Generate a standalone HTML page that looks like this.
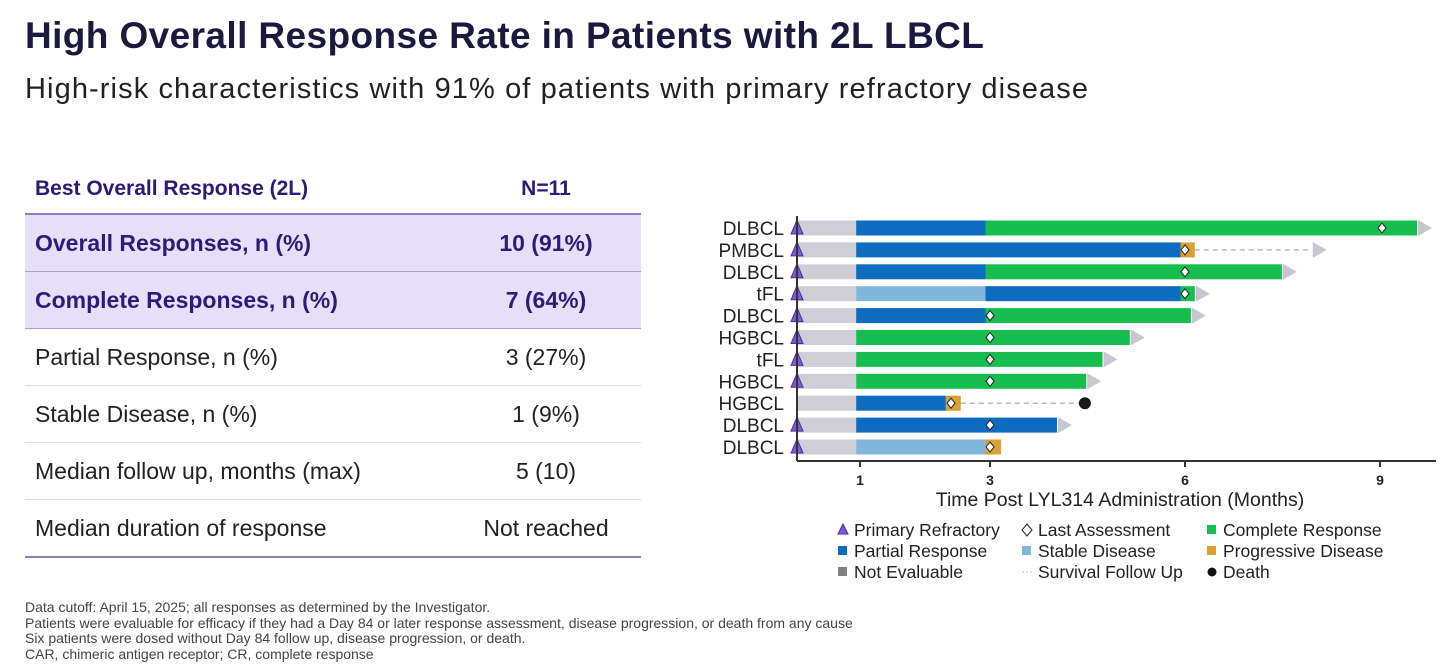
<!DOCTYPE html>
<html><head><meta charset="utf-8">
<style>
body{margin:0;width:1441px;height:671px;background:#fff;font-family:"Liberation Sans",sans-serif;position:relative;overflow:hidden;color:#222}
.title{position:absolute;left:25px;top:15px;font-size:37px;font-weight:bold;color:#1b1a3e;letter-spacing:0.4px}
.sub{position:absolute;left:25px;top:73px;font-size:29px;color:#222;letter-spacing:1.1px}
table{position:absolute;left:25px;top:165px;width:616px;border-collapse:collapse;font-size:23px}
td{padding:0 10px;height:56px;border-bottom:1.5px solid #ddd}
td.v{text-align:center;width:170px}
tr.h td{height:48px;font-weight:bold;color:#2e1a78;font-size:21px;border-bottom:2px solid #8a7fb8}
tr.p td{background:#e5dffa;font-weight:bold;color:#2e1a78;border-bottom:1.5px solid #a8a0cc}
tr.last td{border-bottom:2px solid #8a7fb8}
.foot{position:absolute;left:25px;top:600px;font-size:14px;color:#444;line-height:15.5px}
svg{position:absolute;left:0;top:0}
</style></head><body>
<div class="title">High Overall Response Rate in Patients with 2L LBCL</div>
<div class="sub">High-risk characteristics with 91% of patients with primary refractory disease</div>
<table>
<tr class="h"><td>Best Overall Response (2L)</td><td class="v">N=11</td></tr>
<tr class="p"><td>Overall Responses, n (%)</td><td class="v">10 (91%)</td></tr>
<tr class="p"><td>Complete Responses, n (%)</td><td class="v">7 (64%)</td></tr>
<tr><td>Partial Response, n (%)</td><td class="v">3 (27%)</td></tr>
<tr><td>Stable Disease, n (%)</td><td class="v">1 (9%)</td></tr>
<tr><td>Median follow up, months (max)</td><td class="v">5 (10)</td></tr>
<tr class="last"><td>Median duration of response</td><td class="v">Not reached</td></tr>
</table>
<div class="foot">Data cutoff: April 15, 2025; all responses as determined by the Investigator.<br>Patients were evaluable for efficacy if they had a Day 84 or later response assessment, disease progression, or death from any cause<br>Six patients were dosed without Day 84 follow up, disease progression, or death.<br>CAR, chimeric antigen receptor; CR, complete response</div>
<svg id="chart" width="1441" height="671"></svg>
<script>
const labels=["DLBCL","PMBCL","DLBCL","tFL","DLBCL","HGBCL","tFL","HGBCL","HGBCL","DLBCL","DLBCL"];
const segments=[
[["NE",0.91],["PR",2.9],["CR",9.54]],
[["NE",0.91],["PR",5.9],["PD",6.12]],
[["NE",0.91],["PR",2.9],["CR",7.46]],
[["NE",0.91],["SD",2.9],["PR",5.9],["CR",6.12]],
[["NE",0.91],["PR",2.9],["CR",6.06]],
[["NE",0.91],["CR",5.12]],
[["NE",0.91],["CR",4.7]],
[["NE",0.91],["CR",4.45]],
[["NE",0.91],["PR",2.29],["PD",2.52]],
[["NE",0.91],["PR",4.0]],
[["NE",0.91],["SD",2.9],["PD",3.14]]];
const lastAssess=[9.03,6.0,6.0,6.0,3.0,3.0,3.0,3.0,2.4,3.0,3.0];
const primaryRefractory=[1,1,1,1,1,1,1,1,0,1,1];
const ongoing=[1,0,1,1,1,1,1,1,0,1,0];
const followUpEnd=[null,7.95,null,null,null,null,null,null,4.46,null,null];
const death=[0,0,0,0,0,0,0,0,1,0,0];
const ticks=[1,3,6,9];
const colors={NE:"#cfcdd6",PR:"#0b6cc0",CR:"#17bd4f",SD:"#82b6dd",PD:"#d9a032"};
const X0=795,PX=65,Y0=228,DY=21.9,BH=15;
const xs=m=>X0+m*PX, ys=i=>Y0+i*DY;
const svg=document.getElementById('chart');const NS="http://www.w3.org/2000/svg";
function mk(t,a){const e=document.createElementNS(NS,t);for(const k in a)e.setAttribute(k,a[k]);svg.appendChild(e);return e;}
labels.forEach((lab,i)=>{
 const y=ys(i);
 const t=mk('text',{x:784,y:y+7,'text-anchor':'end','font-size':19,fill:'#222'});t.textContent=lab;
 
 
 let s=0;let end=0;
 segments[i].forEach(([k,e])=>{const r=mk('rect',{x:xs(s)+2,y:y-BH/2,width:xs(e)-xs(s),height:BH,fill:colors[k]});
  
  
  s=e;end=e;});
 if(followUpEnd[i]!=null){const l=mk('line',{x1:xs(end)+2,x2:xs(followUpEnd[i]),y1:y,y2:y,stroke:'#bbb','stroke-width':1.5,'stroke-dasharray':'5,4'});
  
  }
 const arrowAt=ongoing[i]?xs(end)+2:(followUpEnd[i]!=null&&!death[i]?xs(followUpEnd[i]):null);
 if(arrowAt!=null){const p=mk('polygon',{points:`${arrowAt+1},${y-8} ${arrowAt+15},${y} ${arrowAt+1},${y+8}`,fill:'#c8c6cf'});
  
  }
 if(death[i]){const c=mk('circle',{cx:xs(followUpEnd[i]),cy:y,r:6,fill:'#1a1a1a'});
  
  }
 const dx=xs(lastAssess[i]);const d=mk('polygon',{points:`${dx},${y-5} ${dx+4},${y} ${dx},${y+5} ${dx-4},${y}`,fill:'#fff',stroke:'#222','stroke-width':1});
 
 
 if(primaryRefractory[i]){const tr=mk('polygon',{points:`${X0+2},${y-8} ${X0+8},${y+6} ${X0-4},${y+6}`,fill:'#7b5cd6',stroke:'#4a2fa0','stroke-width':1});
  
  }
});
mk('line',{x1:X0+2,x2:X0+2,y1:216,y2:461,stroke:'#333','stroke-width':2});
mk('line',{x1:X0+2,x2:1436,y1:461,y2:461,stroke:'#333','stroke-width':2});
ticks.forEach(t=>{mk('line',{x1:xs(t),x2:xs(t),y1:461,y2:467,stroke:'#333','stroke-width':2});
 const tx=mk('text',{x:xs(t),y:485,'text-anchor':'middle','font-size':14,'font-weight':'bold',fill:'#222'});tx.textContent=t;
 
 });
const xt=mk('text',{x:1120,y:506,'text-anchor':'middle','font-size':19.5,fill:'#222'});xt.textContent="Time Post LYL314 Administration (Months)";


const leg=[[838,530,"tri","#7b5cd6","Primary Refractory"],[1022,530,"dia","#fff","Last Assessment"],[1207,530,"sq","#17bd4f","Complete Response"],
[838,551,"sq","#0b6cc0","Partial Response"],[1022,551,"sq","#82b6dd","Stable Disease"],[1207,551,"sq","#d9a032","Progressive Disease"],
[838,572,"sq","#808080","Not Evaluable"],[1022,572,"dash","#bbb","Survival Follow Up"],[1207,572,"dot","#111","Death"]];
leg.forEach(([x,y,sh,c,txt])=>{
 if(sh=="sq")mk('rect',{x:x,y:y-5,width:9,height:9,fill:c});
 if(sh=="tri")mk('polygon',{points:`${x+5},${y-6} ${x+10},${y+4} ${x},${y+4}`,fill:c,stroke:'#4a2fa0'});
 if(sh=="dia")mk('polygon',{points:`${x+5},${y-6} ${x+10},${y} ${x+5},${y+6} ${x},${y}`,fill:'#fff',stroke:'#222'});
 if(sh=="dash")mk('line',{x1:x,x2:x+10,y1:y,y2:y,stroke:c,'stroke-dasharray':'2,2'});
 if(sh=="dot")mk('circle',{cx:x+5,cy:y,r:4.5,fill:c});
 const t=mk('text',{x:x+16,y:y+6,'font-size':17.5,fill:'#222'});t.textContent=txt;
 
 
});
</script>
</body></html>
